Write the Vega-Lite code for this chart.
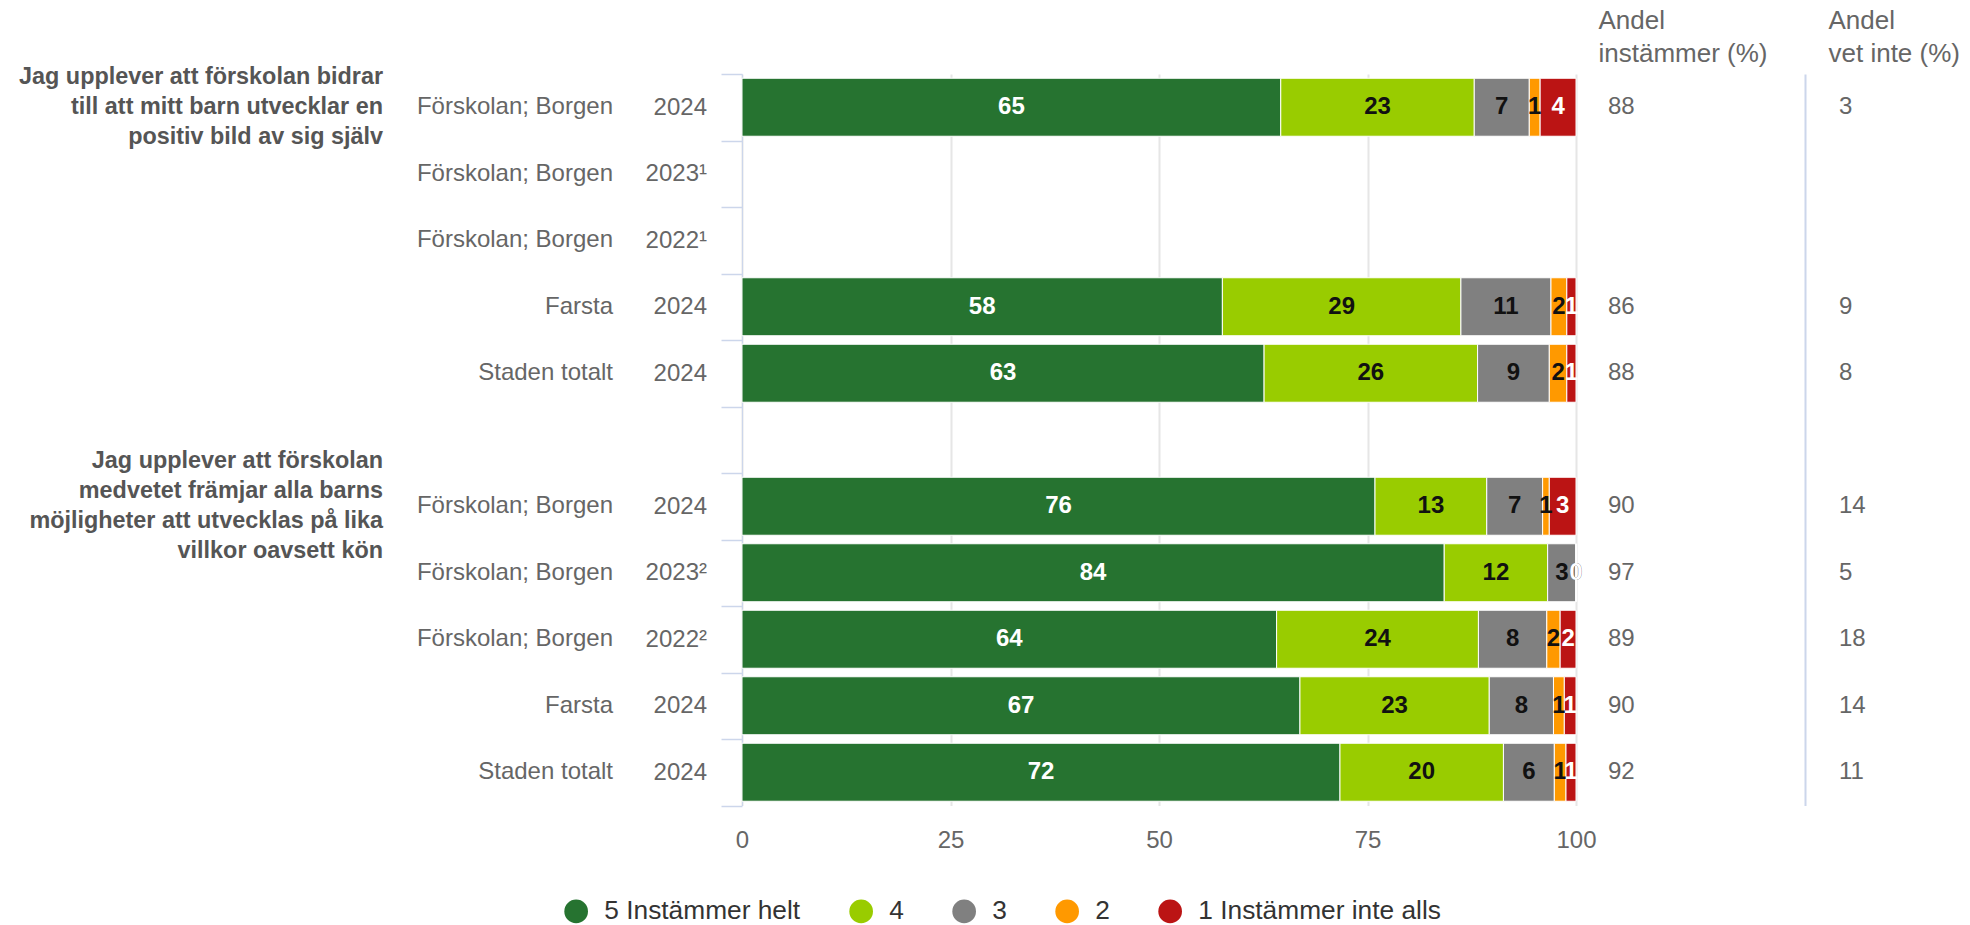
{
  "$schema": "https://vega.github.io/schema/vega-lite/v6.json",
  "width": 834,
  "height": 731.5,
  "autosize": {"type": "none"},
  "padding": {"left": 742, "top": 74, "right": 394, "bottom": 119.5},
  "config": {
    "font": "Liberation Sans",
    "view": {"stroke": null},
    "axis": {"labelFont": "Liberation Sans", "titleFont": "Liberation Sans", "labelLimit": 0, "labelOverlap": false}
  },
  "data": {
    "values": [
      {"row": "Jag upplever att förskolan bidrar\ntill att mitt barn utvecklar en\npositiv bild av sig själv|Förskolan; Borgen|2024", "5 Instämmer helt": 64.6, "4": 23.2, "3": 6.6, "2": 1.3, "1 Instämmer inte alls": 4.3, "agree": 88, "dontKnow": 3},
      {"row": "Jag upplever att förskolan bidrar\ntill att mitt barn utvecklar en\npositiv bild av sig själv|Farsta|2024", "5 Instämmer helt": 57.6, "4": 28.6, "3": 10.8, "2": 1.9, "1 Instämmer inte alls": 1.1, "agree": 86, "dontKnow": 9},
      {"row": "Jag upplever att förskolan bidrar\ntill att mitt barn utvecklar en\npositiv bild av sig själv|Staden totalt|2024", "5 Instämmer helt": 62.6, "4": 25.6, "3": 8.6, "2": 2.1, "1 Instämmer inte alls": 1.1, "agree": 88, "dontKnow": 8},
      {"row": "Jag upplever att förskolan\nmedvetet främjar alla barns\nmöjligheter att utvecklas på lika\nvillkor oavsett kön|Förskolan; Borgen|2024", "5 Instämmer helt": 75.9, "4": 13.4, "3": 6.7, "2": 0.8, "1 Instämmer inte alls": 3.2, "agree": 90, "dontKnow": 14},
      {"row": "Jag upplever att förskolan\nmedvetet främjar alla barns\nmöjligheter att utvecklas på lika\nvillkor oavsett kön|Förskolan; Borgen|2023²", "5 Instämmer helt": 84.2, "4": 12.4, "3": 3.4, "2": 0, "1 Instämmer inte alls": 0, "agree": 97, "dontKnow": 5},
      {"row": "Jag upplever att förskolan\nmedvetet främjar alla barns\nmöjligheter att utvecklas på lika\nvillkor oavsett kön|Förskolan; Borgen|2022²", "5 Instämmer helt": 64.1, "4": 24.2, "3": 8.2, "2": 1.6, "1 Instämmer inte alls": 1.9, "agree": 89, "dontKnow": 18},
      {"row": "Jag upplever att förskolan\nmedvetet främjar alla barns\nmöjligheter att utvecklas på lika\nvillkor oavsett kön|Farsta|2024", "5 Instämmer helt": 66.9, "4": 22.7, "3": 7.7, "2": 1.3, "1 Instämmer inte alls": 1.4, "agree": 90, "dontKnow": 14},
      {"row": "Jag upplever att förskolan\nmedvetet främjar alla barns\nmöjligheter att utvecklas på lika\nvillkor oavsett kön|Staden totalt|2024", "5 Instämmer helt": 71.7, "4": 19.6, "3": 6.1, "2": 1.4, "1 Instämmer inte alls": 1.2, "agree": 92, "dontKnow": 11}
    ]
  },
  "layer": [
    {
      "transform": [{"fold": ["5 Instämmer helt", "4", "3", "2", "1 Instämmer inte alls"], "as": ["response", "percent"]}],
      "mark": {"type": "bar", "stroke": "#ffffff", "strokeWidth": 1, "height": {"band": 0.872}},
      "encoding": {
        "y": {
          "field": "row", "type": "nominal", "sort": null,
          "scale": {
            "domain": [
              "Jag upplever att förskolan bidrar\ntill att mitt barn utvecklar en\npositiv bild av sig själv|Förskolan; Borgen|2024",
              "Jag upplever att förskolan bidrar\ntill att mitt barn utvecklar en\npositiv bild av sig själv|Förskolan; Borgen|2023¹",
              "Jag upplever att förskolan bidrar\ntill att mitt barn utvecklar en\npositiv bild av sig själv|Förskolan; Borgen|2022¹",
              "Jag upplever att förskolan bidrar\ntill att mitt barn utvecklar en\npositiv bild av sig själv|Farsta|2024",
              "Jag upplever att förskolan bidrar\ntill att mitt barn utvecklar en\npositiv bild av sig själv|Staden totalt|2024",
              " ",
              "Jag upplever att förskolan\nmedvetet främjar alla barns\nmöjligheter att utvecklas på lika\nvillkor oavsett kön|Förskolan; Borgen|2024",
              "Jag upplever att förskolan\nmedvetet främjar alla barns\nmöjligheter att utvecklas på lika\nvillkor oavsett kön|Förskolan; Borgen|2023²",
              "Jag upplever att förskolan\nmedvetet främjar alla barns\nmöjligheter att utvecklas på lika\nvillkor oavsett kön|Förskolan; Borgen|2022²",
              "Jag upplever att förskolan\nmedvetet främjar alla barns\nmöjligheter att utvecklas på lika\nvillkor oavsett kön|Farsta|2024",
              "Jag upplever att förskolan\nmedvetet främjar alla barns\nmöjligheter att utvecklas på lika\nvillkor oavsett kön|Staden totalt|2024"
            ],
            "paddingInner": 0, "paddingOuter": 0
          },
          "axis": {
            "orient": "left", "title": null, "grid": false,
            "labelExpr": "split(datum.value, '|')[2] || ''",
            "labelFontSize": 24, "labelColor": "#666666", "labelAlign": "right", "labelBaseline": "middle", "labelPadding": 14.5,
            "domain": true, "domainColor": "#ccd6eb", "domainWidth": 1,
            "ticks": true, "tickColor": "#ccd6eb", "tickSize": 21, "tickWidth": 1.5, "tickBand": "extent"
          }
        },
        "x": {
          "field": "percent", "type": "quantitative", "stack": "zero",
          "scale": {"domain": [0, 100], "nice": false},
          "axis": {
            "values": [0, 25, 50, 75, 100], "title": null, "grid": true, "gridColor": "#e6e6e6", "gridWidth": 2,
            "ticks": false, "tickSize": 0, "domain": false, "labelFlush": false,
            "labelFontSize": 24, "labelColor": "#666666", "labelBaseline": "middle", "labelPadding": 34.5
          }
        },
        "color": {
          "field": "response", "type": "nominal",
          "scale": {"domain": ["5 Instämmer helt", "4", "3", "2", "1 Instämmer inte alls"], "range": ["#267330", "#99cc00", "#808080", "#ff9900", "#bb1414"]},
          "legend": {
            "orient": "none", "legendX": -179, "legendY": 824, "direction": "horizontal", "title": null,
            "symbolType": "circle", "symbolSize": 560, "symbolStrokeWidth": 0, "symbolOpacity": 1,
            "labelFontSize": 26.3, "labelColor": "#333333", "labelOffset": 15, "columnPadding": 47, "padding": 0, "labelLimit": 0
          }
        },
        "order": {"field": "response", "sort": "descending"}
      }
    },
    {
      "transform": [{"fold": ["5 Instämmer helt", "4", "3", "2", "1 Instämmer inte alls"], "as": ["response", "percent"]}],
      "mark": {"type": "text", "fontSize": 24, "fontWeight": "bold", "align": "center", "baseline": "middle"},
      "encoding": {
        "y": {
          "field": "row", "type": "nominal", "sort": null,
          "axis": {
            "orient": "left", "title": null, "grid": false,
            "labelExpr": "split(datum.value, '|')[1] || ''",
            "labelFontSize": 24, "labelColor": "#666666", "labelAlign": "right", "labelBaseline": "middle", "labelPadding": 129.5,
            "domain": false, "ticks": false, "tickSize": 0
          }
        },
        "x": {"field": "percent", "type": "quantitative", "stack": "zero", "bandPosition": 0.5},
        "detail": {"field": "response"},
        "order": {"field": "response", "sort": "descending"},
        "text": {"field": "percent", "type": "quantitative", "format": ".0f"},
        "color": {
          "condition": {"test": "datum.response == '5 Instämmer helt' || datum.response == '1 Instämmer inte alls'", "value": "#ffffff"},
          "value": "#111111"
        }
      }
    },
    {
      "mark": {"type": "text", "align": "left", "baseline": "middle", "fontSize": 24, "color": "#666666", "dx": 32},
      "encoding": {
        "y": {
          "field": "row", "type": "nominal", "sort": null,
          "axis": {
            "orient": "left", "grid": false,
            "labelExpr": "split(datum.value, '|')[1] == 'Förskolan; Borgen' && split(datum.value, '|')[2] == '2024' ? split(split(datum.value, '|')[0], '\\n') : ''",
            "labelFontSize": 23.4, "labelFontWeight": "bold", "labelColor": "#555555", "labelAlign": "right", "labelBaseline": "middle",
            "labelLineHeight": 30, "labelPadding": 359.5,
            "labelOffset": {"condition": {"test": "length(split(split(datum.value, '|')[0], '\\n')) == 4", "value": -45}, "value": -30},
            "domain": false, "ticks": false, "tickSize": 0,
            "title": ["Andel", "instämmer (%)"], "titleX": 856, "titleY": -54, "titleAngle": 0, "titleAlign": "left", "titleBaseline": "middle",
            "titleFontSize": 26, "titleFontWeight": "normal", "titleColor": "#666666", "titleLineHeight": 33.4
          }
        },
        "x": {"value": "width"},
        "text": {"field": "agree", "type": "quantitative"}
      }
    },
    {
      "mark": {"type": "text", "align": "left", "baseline": "middle", "fontSize": 24, "color": "#666666", "dx": 263},
      "encoding": {
        "y": {
          "field": "row", "type": "nominal", "sort": null,
          "axis": {
            "orient": "right", "offset": 229, "grid": false, "labels": false,
            "domain": true, "domainColor": "#ccd6eb", "domainWidth": 2, "ticks": false, "tickSize": 0,
            "title": ["Andel", "vet inte (%)"], "titleX": 23, "titleY": -54, "titleAngle": 0, "titleAlign": "left", "titleBaseline": "middle",
            "titleFontSize": 26, "titleFontWeight": "normal", "titleColor": "#666666", "titleLineHeight": 33.4
          }
        },
        "x": {"value": "width"},
        "text": {"field": "dontKnow", "type": "quantitative"}
      }
    }
  ],
  "resolve": {"axis": {"y": "independent"}}
}
